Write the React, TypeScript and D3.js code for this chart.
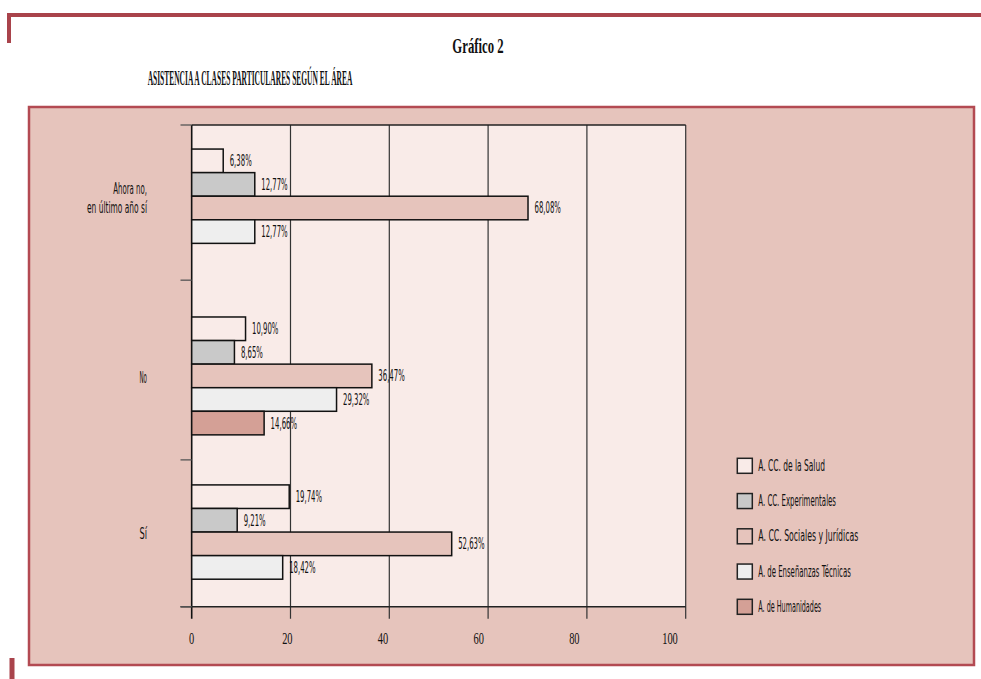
import React from 'react';
import * as d3 from 'd3';

const categories = ['Ahora no, en último año sí', 'No', 'Sí'];
const categoryLines = [['Ahora no,', 'en último año sí'], ['No'], ['Sí']];
const series = [
  'A. CC. de la Salud',
  'A. CC. Experimentales',
  'A. CC. Sociales y Jurídicas',
  'A. de Enseñanzas Técnicas',
  'A. de Humanidades',
];
const salud = [6.38, 10.9, 19.74];
const experimentales = [12.77, 8.65, 9.21];
const sociales = [68.08, 36.47, 52.63];
const tecnicas = [12.77, 29.32, 18.42];
const humanidades: (number | null)[] = [null, 14.66, null];
const xTicks = [0, 20, 40, 60, 80, 100];
const title = 'Gráfico 2';
const subtitle = 'ASISTENCIA A CLASES PARTICULARES SEGÚN EL ÁREA';

const seriesValues: (number | null)[][] = [salud, experimentales, sociales, tecnicas, humanidades];
const seriesFills = ['#f9ebe8', '#c9c9c9', '#e6c4bc', '#eeeeee', '#d4a096'];

const W = 981;
const H = 679;
const plot = { left: 191.7, right: 685.7, top: 125, bottom: 606.7 };

type TProps = {
  x: number; y: number; text: string; k: number; size: number;
  anchor?: 'start' | 'middle' | 'end'; family?: string; weight?: string | number; fill?: string;
};
const T = ({ x, y, text, k, size, anchor = 'start', family = 'DejaVu Sans', weight = 'normal', fill = '#111' }: TProps) => (
  <text
    x={x}
    y={y}
    fontSize={size}
    fontFamily={family}
    fontWeight={weight}
    fill={fill}
    textAnchor={anchor}
    dominantBaseline="central"
    textLength={text.length * k}
    lengthAdjust="spacingAndGlyphs"
  >
    {text}
  </text>
);

export default function App() {
  const x = d3.scaleLinear().domain([0, 100]).range([plot.left, plot.right]);
  const xLabel = d3.scaleLinear().domain([0, 100]).range([plot.left, 670]);
  const yGroup = d3
    .scaleBand<string>()
    .domain(categories)
    .range([plot.top, plot.bottom])
    .paddingInner(0.298)
    .paddingOuter(0.0833)
    .align(0.86);
  const yBar = d3.scaleBand<number>().domain(d3.range(series.length)).range([0, yGroup.bandwidth()]);
  const h = yBar.bandwidth();

  const fmt = (v: number) => v.toFixed(2).replace('.', ',') + '%';

  const extents = categories.map((c, ci) => {
    const idx = seriesValues.map((s, si) => (s[ci] != null ? si : -1)).filter((i) => i >= 0);
    const start = (yGroup(c) as number) + (yBar(idx[0]) as number);
    const end = (yGroup(c) as number) + (yBar(idx[idx.length - 1]) as number) + h;
    return { start, end };
  });
  const yTicks = [plot.top, ...extents.slice(1).map((e, i) => (extents[i].end + e.start) / 2), plot.bottom];

  const legendY0 = 458.3;
  const legendStep = 35.25;

  return (
    <svg width={W} height={H} style={{ position: 'absolute', left: 0, top: 0, background: '#fff' }}>
      <rect x={7} y={13} width={974} height={4} fill="#a9434b" />
      <rect x={7} y={13} width={4} height={30} fill="#a9434b" />
      <rect x={9.5} y={658} width={5} height={21} fill="#a9434b" />

      <T x={478} y={45} text={title} k={5.7} size={22} anchor="middle" family="Liberation Serif" weight="bold" />
      <T x={250} y={78} text={subtitle} k={4.45} size={20} anchor="middle" family="Liberation Serif" weight="bold" />

      <rect x={29} y={107} width={945} height={558} fill="#e6c4bc" stroke="#b34a52" strokeWidth={2.5} />

      <rect x={plot.left} y={plot.top} width={plot.right - plot.left} height={plot.bottom - plot.top} fill="#f9ebe8" />
      {xTicks.slice(1).map((t) => (
        <line key={'g' + t} x1={x(t)} x2={x(t)} y1={plot.top} y2={plot.bottom + 12} stroke="#333" strokeWidth={1.2} />
      ))}
      <line x1={plot.left} x2={plot.right} y1={plot.top} y2={plot.top} stroke="#222" strokeWidth={1.5} />
      <line x1={plot.left} x2={plot.left} y1={plot.top} y2={plot.bottom + 12} stroke="#111" strokeWidth={1.6} />
      <line x1={180.5} x2={plot.right} y1={plot.bottom} y2={plot.bottom} stroke="#222" strokeWidth={1.5} />
      {yTicks.map((t, i) => (
        <line key={'yt' + i} x1={180.5} x2={plot.left} y1={t} y2={t} stroke="#555" strokeWidth={1.3} />
      ))}

      {categories.map((c, ci) =>
        seriesValues.map((s, si) => {
          const v = s[ci];
          if (v == null) return null;
          const y0 = (yGroup(c) as number) + (yBar(si) as number);
          return (
            <g key={c + si}>
              <rect x={x(0)} y={y0} width={x(v) - x(0)} height={h} fill={seriesFills[si]} stroke="#111" strokeWidth={1.5} />
              <T x={x(v) + 6.5} y={y0 + h / 2} text={fmt(v)} k={4.4} size={16} />
            </g>
          );
        })
      )}

      {categories.map((c, ci) => {
        const lines = categoryLines[ci];
        const mid = (extents[ci].start + extents[ci].end) / 2 + 2;
        const lh = 19;
        return lines.map((ln, li) => (
          <T key={c + li} x={147} y={mid + (li - (lines.length - 1) / 2) * lh} text={ln} k={3.75} size={15} anchor="end" />
        ));
      })}

      {xTicks.map((t) => (
        <T key={'xl' + t} x={xLabel(t)} y={638.3} text={String(t)} k={5.2} size={17} anchor="middle" family="Liberation Serif" />
      ))}

      {series.map((s, i) => {
        const y0 = legendY0 + i * legendStep;
        return (
          <g key={s}>
            <rect x={737.3} y={y0} width={15} height={15} fill={seriesFills[i]} stroke="#222" strokeWidth={1.5} />
            <T x={758.3} y={y0 + 7.5} text={s} k={3.7} size={15} />
          </g>
        );
      })}
    </svg>
  );
}
